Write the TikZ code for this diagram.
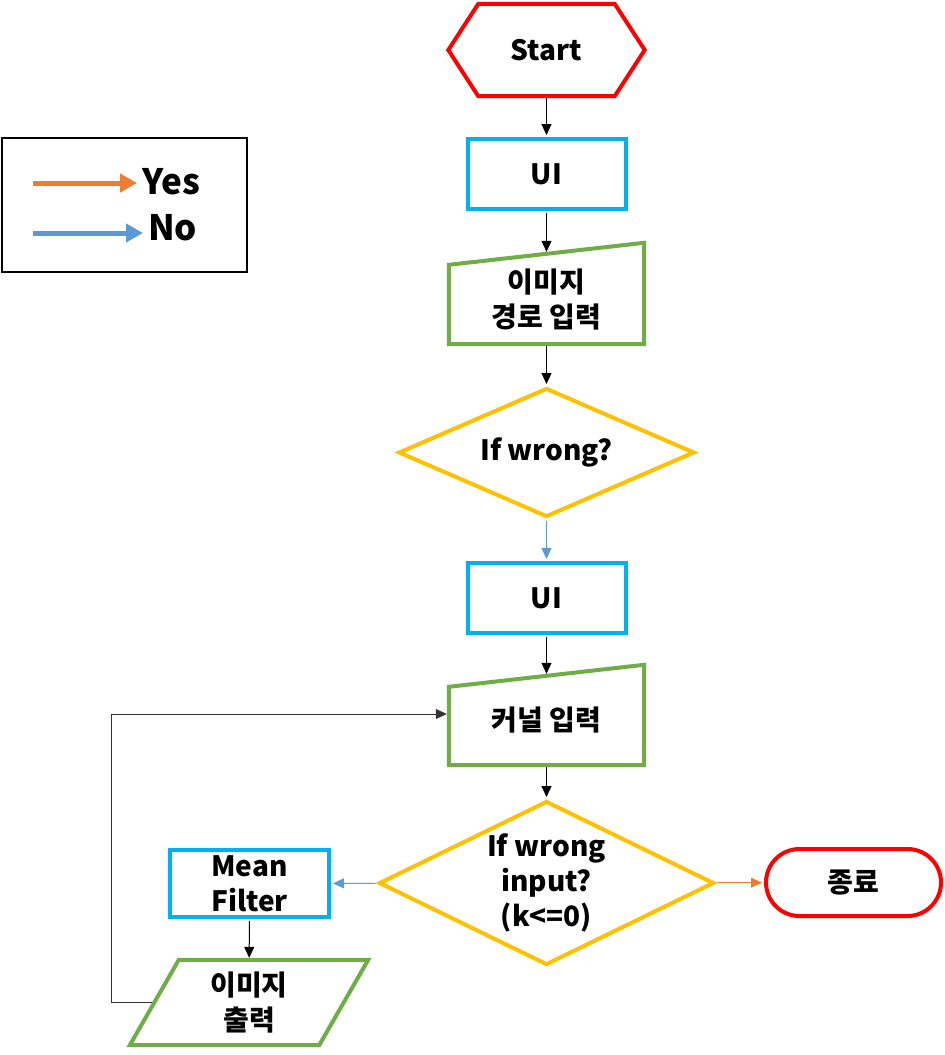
\documentclass[tikz,border=0pt]{standalone}
\usepackage{fontspec}
\setmainfont{Noto Sans CJK KR}[BoldFont={Noto Sans CJK KR Black}]
\usepackage{tikz}
\usetikzlibrary{arrows.meta,shapes.geometric,shapes.misc}
\definecolor{flred}{RGB}{255,0,0}
\definecolor{flcyan}{RGB}{0,176,240}
\definecolor{flgreen}{RGB}{112,173,71}
\definecolor{flyellow}{RGB}{255,192,0}
\definecolor{florange}{RGB}{237,125,49}
\definecolor{flblue}{RGB}{91,155,213}

\begin{document}
\begin{tikzpicture}[x=1pt,y=-1pt,
  every node/.style={font=\bfseries\fontsize{28}{35}\selectfont, align=center, inner sep=0pt},
  term/.style={draw=flred, line width=4pt},
  proc/.style={draw=flcyan, line width=4pt, minimum width=158pt, minimum height=70pt},
  io/.style={draw=flgreen, line width=4pt},
  dec/.style={diamond, draw=flyellow, line width=4pt},
  flow/.style={-{Triangle[length=11pt,width=10pt]}, line width=1pt, shorten >=2pt, shorten <=2pt},
  yesflow/.style={flow, florange},
  noflow/.style={flow, flblue},
  legarrow/.style={-{Triangle[length=17pt,width=18pt]}, line width=5pt, shorten >=5pt},
  legtext/.style={font=\bfseries\fontsize{35}{40}\selectfont, anchor=west}]
\useasboundingbox (0,0) rectangle (945,1055);

% legend
\node[draw, line width=2pt, minimum width=245pt, minimum height=134pt] (L0) at (124.5,205) {};
\node[legtext] (L1) at (142,182) {Yes};
\node[legtext] (L2) at (148,228) {No};
\coordinate (L1s) at (33,183);
\coordinate (L2s) at (33,233);
\draw[legarrow, florange] (L1s) -- (L1s -| L1.west);
\draw[legarrow, flblue] (L2s) -- (L2s -| L2.west);

% main column
\node[minimum width=196pt, minimum height=92pt] (N0) at (546.5,50) {Start};
\node[proc] (N1) at (546.5,174) {UI};
\node[minimum width=195pt, minimum height=90pt] (N2) at (546.5,299) {이미지\\경로 입력};
\node[dec, aspect=2.3, minimum width=296pt, minimum height=129pt] (N3) at (546.5,452.5) {If wrong?};
\node[proc] (N4) at (546.5,598) {UI};
\node[minimum width=195pt, minimum height=89pt] (N5) at (546.5,720.5) {커널 입력};
\node[dec, aspect=2.04, inner sep=-6pt, minimum width=335pt, minimum height=164pt] (N6) at (546.5,883) {If wrong\\input?\\(k<=0)};
\node[proc, minimum width=159pt, minimum height=67pt] (N7) at (249.5,883.5) {Mean\\Filter};
\node[rounded rectangle, term, minimum width=175pt, minimum height=67pt] (N8) at (853.5,882.5) {종료};
\node[minimum width=189pt, minimum height=85pt] (N9) at (249,1002.5) {이미지\\출력};
\coordinate (loop) at (111,714);

% outlines
\draw[term] (N0.west) -- ([xshift=30pt]N0.north west) -- ([xshift=-30pt]N0.north east)
  -- (N0.east) -- ([xshift=-30pt]N0.south east) -- ([xshift=30pt]N0.south west) -- cycle;
\draw[io] (N2.south west) -- (N2.south east) -- ([yshift=11pt]N2.north east)
  -- ([yshift=-11pt]N2.north west) -- cycle;
\draw[io] (N5.south west) -- (N5.south east) -- ([yshift=11pt]N5.north east)
  -- ([yshift=-11pt]N5.north west) -- cycle;
\draw[io] ([xshift=24.5pt]N9.north west) -- ([xshift=24.5pt]N9.north east)
  -- ([xshift=-24.5pt]N9.south east) -- ([xshift=-24.5pt]N9.south west) -- cycle;

% connectors
\draw[flow] (N0) -- (N1);
\draw[flow] (N1) -- (N2);
\draw[flow] (N2) -- (N3);
\draw[noflow] (N3) -- (N4);
\draw[flow] (N4) -- (N5);
\draw[flow] (N5) -- (N6);
\draw[noflow] (N6) -- (N7);
\draw[yesflow] (N6) -- (N8);
\draw[flow] (N7) -- (N9);
\draw[flow, black!80] (N9.west) -| (loop) -- (loop -| N5.west);
\end{tikzpicture}
\end{document}
